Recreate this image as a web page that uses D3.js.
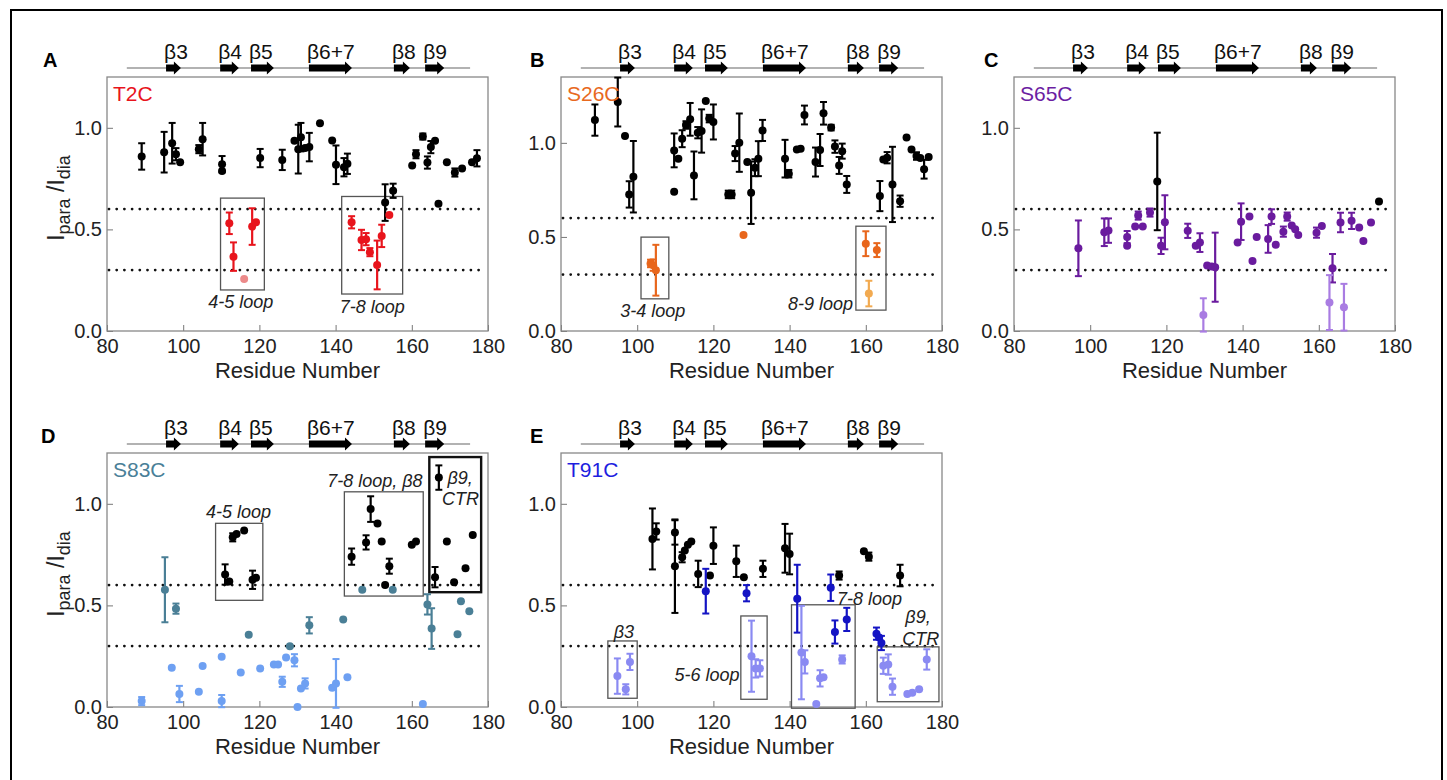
<!DOCTYPE html>
<html>
<head>
<meta charset="utf-8">
<script src="https://cdn.jsdelivr.net/npm/d3@7"></script>
<style>
    body { margin: 0; background: #fff; }
    svg text { font-family: "Liberation Sans", Arial, sans-serif; }
</style>
</head>
<body>
<svg id="chart" width="1447" height="780"></svg>
<script>
// ---- data (residue, Ipara/Idia, error) ----
const residueTicks = [80, 100, 120, 140, 160, 180];
const valueTicks = [0, 0.5, 1.0];
const cutoffs = [0.6, 0.3];

const ssLabels = ['β3', 'β4', 'β5', 'β6+7', 'β8', 'β9'];
const ssStart = [95.5, 109.7, 117.8, 133.0, 155.3, 163.5];
const ssEnd = [99.4, 114.6, 123.8, 144.3, 159.5, 168.5];
const ssSpan = [85.2, 175.3];

const t2cBlack = [
    [89.1, 0.859, 0.065], [95.0, 0.880, 0.10], [97.1, 0.924, 0.10], [98.1, 0.870, 0.03],
    [99.2, 0.831, 0], [104.1, 0.895, 0.02], [105.1, 0.944, 0.08], [110.2, 0.821, 0.04],
    [110.2, 0.788, 0], [120.2, 0.851, 0.045], [126.0, 0.842, 0.05], [129.2, 0.936, 0],
    [130.2, 0.895, 0.12], [130.9, 0.954, 0.07], [132.0, 0.901, 0], [133.1, 0.905, 0.07],
    [135.9, 1.023, 0], [139.1, 0.937, 0], [140.1, 0.818, 0.095], [142.2, 0.806, 0.045],
    [143.1, 0.823, 0.05], [153.0, 0.632, 0.09], [155.1, 0.690, 0.035], [160.1, 0.814, 0],
    [161.1, 0.870, 0.02], [162.9, 0.957, 0.015], [164.1, 0.829, 0.03], [165.0, 0.905, 0.03],
    [166.1, 0.936, 0], [167.0, 0.626, 0], [169.2, 0.83, 0], [171.3, 0.78, 0.02],
    [173.2, 0.80, 0], [175.8, 0.83, 0], [177.1, 0.85, 0.04]
];
const t2cRed = [
    [112.1, 0.530, 0.053], [113.2, 0.366, 0.07], [118.1, 0.514, 0.09], [119.1, 0.535, 0],
    [144.2, 0.535, 0.03], [146.8, 0.448, 0.05], [148.0, 0.452, 0.03], [149.0, 0.388, 0.02],
    [150.9, 0.325, 0.12], [152.1, 0.468, 0.055], [154.1, 0.571, 0]
];
const t2cPale = [[116.0, 0.256, 0]];
const t2cBoxes = [[109.8, 121.3, 0.202, 0.654], [141.6, 157.6, 0.182, 0.662]];
const t2cNotes = [['4-5 loop', 115.1, 0.144], ['7-8 loop', 149.6, 0.12]];

const s26cBlack = [
    [88.9, 1.121, 0.083], [94.9, 1.217, 0.13], [96.8, 1.036, 0], [97.9, 0.726, 0.07],
    [99.0, 0.820, 0.19], [109.7, 0.960, 0.09], [109.7, 0.740, 0], [110.8, 0.916, 0],
    [111.8, 1.022, 0.045], [112.8, 1.095, 0.02], [113.9, 1.125, 0.087], [114.9, 0.827, 0.127],
    [115.9, 1.054, 0.03], [116.9, 1.063, 0.115], [118.0, 1.222, 0], [118.9, 1.129, 0.02],
    [120.0, 1.111, 0.093], [123.9, 0.726, 0.02], [124.8, 0.726, 0.02], [125.7, 0.943, 0.04],
    [126.8, 1.001, 0.155], [128.9, 0.898, 0], [129.9, 0.735, 0.166], [130.9, 0.868, 0.045],
    [131.8, 0.916, 0.093], [132.9, 1.066, 0.056], [138.8, 0.916, 0.10], [139.8, 0.836, 0.02],
    [141.9, 0.965, 0], [142.9, 0.969, 0], [143.9, 1.148, 0.05], [146.8, 0.898, 0.077],
    [148.0, 0.962, 0.085], [148.9, 1.157, 0.06], [150.9, 1.081, 0.015], [151.9, 0.980, 0.033],
    [153.0, 0.880, 0.045], [153.8, 0.956, 0.04], [155.0, 0.779, 0.045], [163.7, 0.717, 0.08],
    [164.6, 0.912, 0], [165.6, 0.921, 0.03], [167.0, 0.779, 0.20], [169.0, 0.690, 0.03],
    [170.7, 1.028, 0], [172.0, 0.965, 0], [173.3, 0.93, 0.02], [174.3, 0.92, 0],
    [175.3, 0.86, 0.05], [176.5, 0.925, 0]
];
const s26cOrange = [
    [103.5, 0.359, 0.02], [104.2, 0.35, 0.03], [104.9, 0.323, 0.135], [127.9, 0.510, 0],
    [160.0, 0.464, 0.066], [162.9, 0.430, 0.037]
];
const s26cLight = [[160.8, 0.199, 0.068]];
const s26cBoxes = [[101.0, 108.3, 0.171, 0.499], [157.4, 165.3, 0.111, 0.557]];
const s26cNotes = [['3-4 loop', 104.1, 0.108], ['8-9 loop', 148.1, 0.147]];

const s65cPurple = [
    [96.9, 0.407, 0.137], [103.7, 0.486, 0.068], [104.8, 0.494, 0.06], [109.7, 0.462, 0.03],
    [109.7, 0.419, 0], [111.8, 0.514, 0], [112.6, 0.568, 0.02], [113.8, 0.514, 0],
    [115.7, 0.583, 0.02], [118.6, 0.419, 0.04], [119.6, 0.535, 0.133], [125.6, 0.493, 0.035],
    [127.7, 0.420, 0], [128.8, 0.435, 0.046], [130.7, 0.322, 0], [131.9, 0.317, 0],
    [132.8, 0.314, 0.17], [138.7, 0.435, 0], [139.6, 0.538, 0.09], [141.8, 0.563, 0],
    [142.6, 0.345, 0], [143.7, 0.462, 0], [146.7, 0.453, 0.068], [147.6, 0.563, 0.036],
    [148.7, 0.424, 0], [150.7, 0.489, 0.025], [151.7, 0.563, 0.02], [152.9, 0.519, 0],
    [153.8, 0.501, 0], [154.6, 0.473, 0], [159.4, 0.484, 0.025], [160.8, 0.517, 0],
    [163.6, 0.309, 0.07], [165.7, 0.534, 0.048], [168.6, 0.542, 0.04], [170.6, 0.509, 0],
    [171.7, 0.443, 0], [173.7, 0.534, 0]
];
const s65cLight = [[129.7, 0.079, 0.082], [162.8, 0.140, 0.135], [166.6, 0.117, 0.115]];
const s65cBlack = [[117.6, 0.736, 0.24], [175.8, 0.637, 0]];

const s83cTeal = [
    [95.2, 0.577, 0.16], [98.1, 0.484, 0.025], [117.2, 0.356, 0], [128.0, 0.299, 0],
    [133.1, 0.402, 0.04], [142.0, 0.430, 0], [147.0, 0.577, 0], [155.0, 0.577, 0],
    [164.1, 0.505, 0.05], [165.2, 0.386, 0.10], [172.9, 0.520, 0], [175.1, 0.471, 0],
    [172.0, 0.358, 0]
];
const s83cLight = [
    [89.1, 0.029, 0.02], [97.0, 0.193, 0], [99.0, 0.064, 0.04], [104.1, 0.075, 0],
    [105.1, 0.202, 0], [110.1, 0.029, 0.03], [110.1, 0.247, 0], [115.1, 0.170, 0],
    [120.2, 0.190, 0], [123.8, 0.209, 0], [124.9, 0.209, 0], [127.0, 0.243, 0],
    [129.2, 0.230, 0.03], [126.0, 0.124, 0.025], [130.0, 0.0, 0], [130.9, 0.091, 0],
    [132.0, 0.116, 0.025], [139.1, 0.095, 0], [140.1, 0.116, 0.12], [143.1, 0.146, 0],
    [162.9, 0.015, 0]
];
const s83cBlack = [
    [111.0, 0.652, 0.05], [112.1, 0.618, 0], [113.0, 0.835, 0.02], [114.0, 0.851, 0],
    [116.0, 0.868, 0], [118.2, 0.626, 0.045], [119.1, 0.636, 0], [144.2, 0.740, 0.04],
    [148.0, 0.810, 0.035], [149.2, 0.974, 0.063], [151.0, 0.903, 0], [152.1, 0.815, 0],
    [153.0, 0.601, 0], [154.1, 0.693, 0.037], [160.0, 0.799, 0], [161.1, 0.815, 0],
    [166.1, 0.639, 0.05], [167.1, 1.129, 0.06], [169.2, 0.815, 0], [171.1, 0.614, 0],
    [174.1, 0.683, 0], [176.0, 0.846, 0]
];
const s83cBoxes = [[108.5, 120.9, 0.525, 0.904], [142.3, 163.0, 0.546, 1.059]];
const s83cBoldBoxes = [[164.6, 178.2, 0.565, 1.230]];
const s83cNotes = [
    ['4-5 loop', 114.5, 0.962], ['7-8 loop, β8', 150.3, 1.116],
    ['β9,', 172.7, 1.129], ['CTR', 172.8, 1.023]
];

const t91cBlack = [
    [104.0, 0.827, 0.15], [105.0, 0.864, 0.04], [109.9, 0.859, 0.06], [109.9, 0.693, 0.23],
    [111.8, 0.737, 0.025], [112.5, 0.770, 0], [113.3, 0.799, 0], [114.2, 0.815, 0],
    [116.0, 0.655, 0.065], [119.1, 0.647, 0], [120.0, 0.794, 0.09], [126.0, 0.717, 0.077],
    [128.0, 0.639, 0], [133.0, 0.680, 0.04], [138.8, 0.781, 0.12], [140.0, 0.753, 0.10],
    [153.0, 0.647, 0.02], [159.5, 0.766, 0], [160.8, 0.740, 0.02], [169.0, 0.647, 0.053]
];
const t91cBlue = [
    [118.0, 0.570, 0.11], [128.7, 0.560, 0.04], [142.0, 0.533, 0.167], [150.8, 0.587, 0.065],
    [151.9, 0.369, 0.057], [155.0, 0.431, 0.057], [162.8, 0.361, 0.03], [163.5, 0.342, 0],
    [164.1, 0.315, 0.035]
];
const t91cLight = [
    [94.8, 0.152, 0.087], [97.0, 0.087, 0.025], [98.1, 0.222, 0.04], [130.0, 0.250, 0.175],
    [131.1, 0.190, 0.045], [132.2, 0.190, 0.04], [143.1, 0.268, 0.23], [144.0, 0.222, 0.057],
    [147.0, 0.015, 0], [148.0, 0.141, 0.04], [148.9, 0.146, 0], [153.8, 0.234, 0.02],
    [164.6, 0.203, 0.04], [165.9, 0.209, 0.05], [167.0, 0.100, 0.04], [170.9, 0.064, 0],
    [172.2, 0.070, 0], [174.0, 0.087, 0], [176.0, 0.234, 0.05]
];
const t91cBoxes = [
    [92.3, 100.0, 0.043, 0.325], [127.2, 134.1, 0.038, 0.448],
    [140.5, 157.2, -0.006, 0.503], [163.0, 179.2, 0.026, 0.296]
];
const t91cNotes = [
    ['β3', 96.5, 0.369], ['5-6 loop', 118.3, 0.157], ['7-8 loop', 161.0, 0.533],
    ['β9,', 173.7, 0.443], ['CTR', 174.4, 0.337]
];

// ---- layout ----
const PLOT_W = 381;
const COL_LEFT = [107, 561, 1014];
const ROW_TOP = [77, 453];
const ROW_BOTTOM = [331, 707];
const FONT = '"Liberation Sans", Arial, sans-serif';

const panels = [
    {
        letter: 'A', letterX: 43, name: 'T2C', nameColor: '#e8141c', col: 0, row: 0, yMax: 1.25, yLabel: true,
        groups: [[t2cBlack, '#000'], [t2cRed, '#e8141c'], [t2cPale, '#ec8a8a']],
        boxes: t2cBoxes, boldBoxes: [], notes: t2cNotes
    },
    {
        letter: 'B', letterX: 530, name: 'S26C', nameColor: '#e8691e', col: 1, row: 0, yMax: 1.35,
        groups: [[s26cBlack, '#000'], [s26cOrange, '#e8661c'], [s26cLight, '#f2aa50']],
        boxes: s26cBoxes, boldBoxes: [], notes: s26cNotes
    },
    {
        letter: 'C', letterX: 984, name: 'S65C', nameColor: '#6c1ea2', col: 2, row: 0, yMax: 1.25,
        groups: [[s65cPurple, '#6a1b9e'], [s65cLight, '#a97ce2'], [s65cBlack, '#000']],
        boxes: [], boldBoxes: [], notes: []
    },
    {
        letter: 'D', letterX: 41, name: 'S83C', nameColor: '#4a7f98', col: 0, row: 1, yMax: 1.25, yLabel: true,
        groups: [[s83cLight, '#6ea0f2'], [s83cTeal, '#4a7f96'], [s83cBlack, '#000']],
        boxes: s83cBoxes, boldBoxes: s83cBoldBoxes, notes: s83cNotes
    },
    {
        letter: 'E', letterX: 530, name: 'T91C', nameColor: '#1e1ee0', col: 1, row: 1, yMax: 1.25,
        groups: [[t91cBlack, '#000'], [t91cBlue, '#1414c4'], [t91cLight, '#8a8af2']],
        boxes: t91cBoxes, boldBoxes: [], notes: t91cNotes
    }
];

const svg = d3.select('#chart');

svg.append('rect')
    .attr('x', 11).attr('y', 10)
    .attr('width', 1431).attr('height', 800)
    .attr('fill', 'none')
    .attr('stroke', '#000')
    .attr('stroke-width', 2);

const drawPanel = p => {
    const left = COL_LEFT[p.col];
    const top = ROW_TOP[p.row];
    const bottom = ROW_BOTTOM[p.row];
    const x = d3.scaleLinear().domain([80, 180]).range([left, left + PLOT_W]);
    const y = d3.scaleLinear().domain([0, p.yMax]).range([bottom, top]);
    const g = svg.append('g');

    // secondary structure strip
    const ssY = top - 9;
    g.append('line')
        .attr('x1', x(ssSpan[0])).attr('x2', x(ssSpan[1]))
        .attr('y1', ssY).attr('y2', ssY)
        .attr('stroke', '#666').attr('stroke-width', 1.2);
    ssLabels.forEach((label, i) => {
        const x0 = x(ssStart[i]);
        const x1 = x(ssEnd[i]);
        const head = 7;
        const path = d3.path();
        path.moveTo(x0, ssY - 3.5);
        path.lineTo(x1 - head, ssY - 3.5);
        path.lineTo(x1 - head, ssY - 6.5);
        path.lineTo(x1, ssY);
        path.lineTo(x1 - head, ssY + 6.5);
        path.lineTo(x1 - head, ssY + 3.5);
        path.lineTo(x0, ssY + 3.5);
        path.closePath();
        g.append('path').attr('d', path.toString()).attr('fill', '#000');
        g.append('text')
            .attr('x', x0 - 2).attr('y', ssY - 9)
            .attr('font-size', 21).attr('fill', '#111')
            .text(label);
    });

    // panel letter
    svg.append('text')
        .attr('x', p.letterX).attr('y', top - 10)
        .attr('font-size', 20).attr('font-weight', 'bold')
        .text(p.letter);

    // axes
    g.append('g')
        .attr('transform', `translate(0, ${bottom})`)
        .call(d3.axisBottom(x).tickValues(residueTicks).tickSizeInner(-6).tickSizeOuter(0).tickPadding(8))
        .call(a => a.select('.domain').remove())
        .call(a => a.selectAll('line').attr('stroke', '#777'))
        .call(a => a.selectAll('text').attr('font-size', 20).attr('fill', '#222').attr('font-family', FONT));

    g.append('g')
        .attr('transform', `translate(${left}, 0)`)
        .call(d3.axisLeft(y).tickValues(valueTicks).tickFormat(d3.format('.1f')).tickSizeInner(-6).tickSizeOuter(0).tickPadding(5))
        .call(a => a.select('.domain').remove())
        .call(a => a.selectAll('line').attr('stroke', '#777'))
        .call(a => a.selectAll('text').attr('font-size', 20).attr('fill', '#222').attr('font-family', FONT));

    g.append('text')
        .attr('x', left + PLOT_W / 2).attr('y', bottom + 47)
        .attr('text-anchor', 'middle').attr('font-size', 22).attr('fill', '#222')
        .text('Residue Number');

    if (p.yLabel) {
        const t = g.append('text')
            .attr('transform', `translate(64, ${(top + bottom) / 2 - 6}) rotate(-90)`)
            .attr('text-anchor', 'middle').attr('font-size', 23).attr('fill', '#222');
        t.append('tspan').text('I');
        t.append('tspan').attr('font-size', 18).attr('dy', 6).text('para');
        t.append('tspan').attr('dy', -6).text(' /I');
        t.append('tspan').attr('font-size', 18).attr('dy', 6).text('dia');
    }

    // frame
    g.append('rect')
        .attr('x', left).attr('y', top)
        .attr('width', PLOT_W).attr('height', bottom - top)
        .attr('fill', 'none').attr('stroke', '#888').attr('stroke-width', 1.3);

    // cutoff lines
    cutoffs.forEach(c => {
        g.append('line')
            .attr('x1', left + 2).attr('x2', left + PLOT_W - 2)
            .attr('y1', y(c)).attr('y2', y(c))
            .attr('stroke', '#111').attr('stroke-width', 2.8)
            .attr('stroke-linecap', 'round')
            .attr('stroke-dasharray', '0,7.7');
    });

    // region boxes and notes
    p.boxes.forEach(b => {
        g.append('rect')
            .attr('x', x(b[0])).attr('y', y(b[3]))
            .attr('width', x(b[1]) - x(b[0])).attr('height', y(b[2]) - y(b[3]))
            .attr('fill', 'none').attr('stroke', '#555').attr('stroke-width', 1.3);
    });
    p.boldBoxes.forEach(b => {
        g.append('rect')
            .attr('x', x(b[0])).attr('y', y(b[3]))
            .attr('width', x(b[1]) - x(b[0])).attr('height', y(b[2]) - y(b[3]))
            .attr('fill', 'none').attr('stroke', '#111').attr('stroke-width', 2.4);
    });
    p.notes.forEach(n => {
        g.append('text')
            .attr('x', x(n[1])).attr('y', y(n[2]))
            .attr('dy', '0.35em')
            .attr('text-anchor', 'middle')
            .attr('font-size', 18).attr('font-style', 'italic').attr('fill', '#222')
            .text(n[0]);
    });

    // points with error bars
    p.groups.forEach(([data, color]) => {
        const pg = g.append('g').attr('stroke', color).attr('fill', color);
        data.filter(d => d[2] > 0).forEach(d => {
            const cx = x(d[0]);
            const y0 = y(d[1] - d[2]);
            const y1 = y(d[1] + d[2]);
            pg.append('line').attr('x1', cx).attr('x2', cx).attr('y1', y0).attr('y2', y1).attr('stroke-width', 2.2);
            pg.append('line').attr('x1', cx - 3.5).attr('x2', cx + 3.5).attr('y1', y0).attr('y2', y0).attr('stroke-width', 2);
            pg.append('line').attr('x1', cx - 3.5).attr('x2', cx + 3.5).attr('y1', y1).attr('y2', y1).attr('stroke-width', 2);
        });
        pg.selectAll('circle')
            .data(data)
            .join('circle')
            .attr('cx', d => x(d[0]))
            .attr('cy', d => y(d[1]))
            .attr('r', 4)
            .attr('stroke', 'none');
    });

    // variant name
    g.append('text')
        .attr('x', left + 6).attr('y', top + 24)
        .attr('font-size', 21).attr('fill', p.nameColor)
        .text(p.name);
};

panels.forEach(drawPanel);
</script>
</body>
</html>
